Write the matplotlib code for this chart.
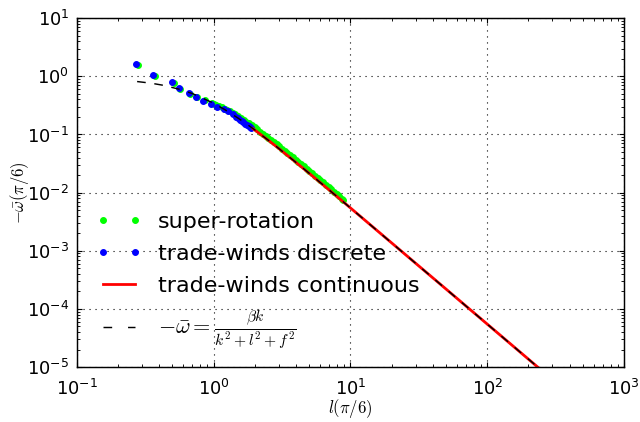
import matplotlib
matplotlib.use('Agg')
import matplotlib.pyplot as plt
from matplotlib.lines import Line2D
from matplotlib.legend_handler import HandlerLine2D

plt.rcParams['mathtext.fontset'] = 'cm'
plt.rcParams['font.family'] = ['DejaVu Sans']

# super-rotation spectrum (wavenumber l, frequency -omega)
super_l = [0.28, 0.37, 0.51, 0.57, 0.67, 0.76, 0.86, 0.97,
           1.00, 1.047, 1.096, 1.148, 1.202, 1.259, 1.318, 1.380, 1.445, 1.514,
           1.585, 1.660, 1.738, 1.820, 1.905, 1.995, 2.089, 2.188, 2.291, 2.399,
           2.512, 2.630, 2.754, 2.884, 3.020, 3.162, 3.311, 3.467, 3.631, 3.802,
           3.981, 4.169, 4.365, 4.571, 4.786, 5.012, 5.248, 5.495, 5.754, 6.026,
           6.310, 6.607, 6.918, 7.244, 7.586, 7.943, 8.318, 8.710, 8.90]
super_w = [1.58, 1.03, 0.77, 0.615, 0.505, 0.44, 0.39, 0.35,
           0.33, 0.318, 0.305, 0.292, 0.279, 0.266, 0.252, 0.238, 0.223, 0.208,
           0.194, 0.180, 0.167, 0.155, 0.143, 0.132, 0.122, 0.112, 0.1034, 0.0952,
           0.0876, 0.0805, 0.0739, 0.0678, 0.0622, 0.0571, 0.0523, 0.0479, 0.0439, 0.0402,
           0.0368, 0.0336, 0.0308, 0.0282, 0.0257, 0.0235, 0.0215, 0.0196, 0.0179, 0.0164,
           0.0150, 0.0137, 0.0125, 0.0114, 0.0104, 0.0095, 0.00867, 0.00791, 0.00758]

# trade-winds, discrete modes
trade_l = [0.273, 0.361, 0.498, 0.555, 0.656, 0.741, 0.839, 0.951, 1.06, 1.19,
           1.28, 1.39, 1.45, 1.50, 1.55, 1.60, 1.65, 1.70, 1.75, 1.80, 1.85, 1.89]
trade_w = [1.62, 1.05, 0.785, 0.627, 0.514, 0.444, 0.379, 0.337, 0.299, 0.270,
           0.249, 0.224, 0.199, 0.189, 0.180, 0.171, 0.162, 0.154, 0.147, 0.140, 0.134, 0.129]

# trade-winds, continuous spectrum
cont_l = [1.94, 2.5, 3.0, 4.0, 5.0, 7.0, 10.0, 20.0, 50.0, 100.0, 300.0]
cont_w = [0.126, 0.0803, 0.0573, 0.0331, 0.0215, 0.0111, 5.47e-3, 1.37e-3, 2.2e-4, 5.5e-5, 6.1e-6]

# Rossby dispersion relation
theory_l = [0.276, 0.35, 0.43, 0.56, 0.7, 0.97, 1.2, 1.5, 1.7, 2.0, 2.5, 3.0, 4.0, 5.0,
            7.0, 9.1, 20.0, 50.0, 100.0, 230.0, 300.0]
theory_w = [0.813, 0.761, 0.70, 0.60, 0.505, 0.357, 0.27, 0.193, 0.158, 0.120, 0.0803,
            0.0573, 0.0331, 0.0215, 0.0111, 6.6e-3, 1.37e-3, 2.2e-4, 5.5e-5, 1.04e-5, 6.1e-6]

fig = plt.figure(figsize=(8, 5.275), dpi=80)
ax = fig.add_axes([0.120, 0.130, 0.855, 0.827])

ax.plot(super_l, super_w, 'o', color='#00ff00', mec='#00ff00', ms=5.2, label='super-rotation')
ax.plot(trade_l, trade_w, 'o', color='#0000ff', mec='#0000ff', ms=5.2, label='trade-winds discrete')
ax.plot(cont_l, cont_w, '-', color='#ff0000', lw=2.5, label='trade-winds continuous')
ax.plot(theory_l, theory_w, '--', color='k', lw=1.3, dashes=(6, 6),
        label=r'$-\bar{\omega} = \frac{\beta k}{k^2+l^2+f^2}$')

ax.set_xscale('log')
ax.set_yscale('log')
ax.set_xlim(0.1, 1000)
ax.set_ylim(1e-5, 10)
ax.grid(True, which='major', linestyle=(0, (1, 4.4)), color='k', linewidth=1.0)

for side in ax.spines.values():
    side.set_linewidth(1.3)

ax.tick_params(which='both', direction='in', top=True, right=True, labelsize=16)
ax.tick_params(which='major', length=4.5, width=1.0)
ax.tick_params(which='minor', length=2.7, width=0.8)
ax.tick_params(axis='x', which='major', pad=11)
ax.tick_params(axis='y', which='major', pad=7)

ax.set_xlabel(r'$l(\pi/6)$', fontsize=15, labelpad=-2)
ax.set_ylabel(r'$-\bar{\omega}(\pi/6)$', fontsize=15, labelpad=-4)

leg = ax.legend(loc='lower left', bbox_to_anchor=(0.0, -0.029), frameon=False,
                fontsize=20, numpoints=2, handlelength=1.45, handletextpad=1.04,
                labelspacing=0.55, borderaxespad=0.77,
                handler_map={Line2D: HandlerLine2D(marker_pad=0)})
leg.get_lines()[3].set_dashes((6, 11))

fig.savefig('out.png', dpi=80)
